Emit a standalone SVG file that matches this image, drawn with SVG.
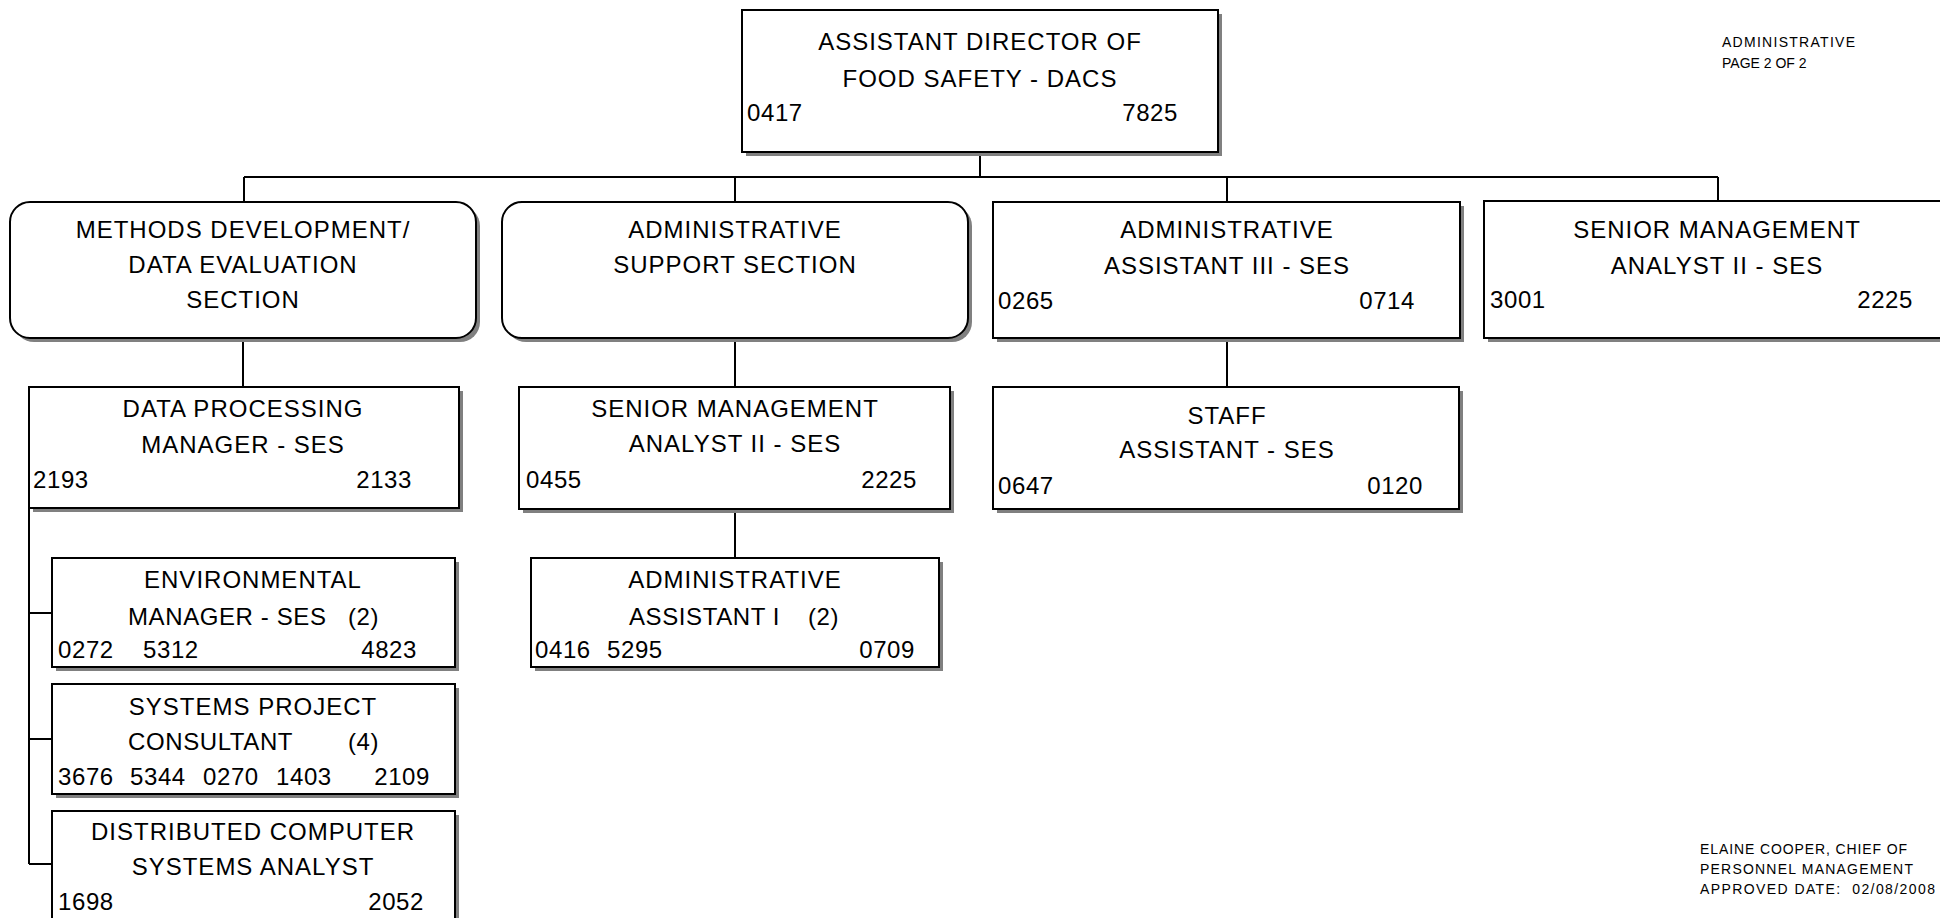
<svg xmlns="http://www.w3.org/2000/svg" width="1940" height="918" viewBox="0 0 1940 918">
  <style>
    text { font-family: "Liberation Sans", Arial, sans-serif; fill: #000; }
    .t { font-size: 24px; letter-spacing: 1px; text-anchor: middle; }
    .n { font-size: 24px; letter-spacing: 0.6px; }
    .r { text-anchor: end; }
    .note { font-size: 14px; }
    .box { fill: #fff; stroke: #000; stroke-width: 2; }
    .shadow { fill: #808080; }
    .wire { fill: none; stroke: #000; stroke-width: 2; }
  </style>

  <!-- connectors -->
  <g id="connectors" class="wire">
    <path d="M980,152 V177 M244,177 H1718 M244,177 V202 M735,177 V202 M1227,177 V202 M1718,177 V202"/>
    <path d="M243,338 V387"/>
    <path d="M29,508 V864 M29,613 H52 M29,739 H52 M29,864 H52"/>
    <path d="M735,338 V387 M735,509 V558"/>
    <path d="M1227,338 V387"/>
  </g>

  <!-- head of unit -->
  <g id="director">
    <rect class="shadow" x="746" y="14" width="476" height="142"/>
    <rect class="box" x="742" y="10" width="476" height="142"/>
    <text class="t" x="980" y="50">ASSISTANT DIRECTOR OF</text>
    <text class="t" x="980" y="87">FOOD SAFETY - DACS</text>
    <text class="n" x="747" y="121">0417</text>
    <text class="n r" x="1178" y="121">7825</text>
  </g>

  <!-- sections -->
  <g id="methods-section">
    <rect class="shadow" x="14" y="206" width="466" height="136" rx="20"/>
    <rect class="box" x="10" y="202" width="466" height="136" rx="20"/>
    <text class="t" x="243" y="238">METHODS DEVELOPMENT/</text>
    <text class="t" x="243" y="273">DATA EVALUATION</text>
    <text class="t" x="243" y="308">SECTION</text>
  </g>

  <g id="admin-support-section">
    <rect class="shadow" x="506" y="206" width="466" height="136" rx="20"/>
    <rect class="box" x="502" y="202" width="466" height="136" rx="20"/>
    <text class="t" x="735" y="238">ADMINISTRATIVE</text>
    <text class="t" x="735" y="273">SUPPORT SECTION</text>
  </g>

  <g id="admin-assistant-iii">
    <rect class="shadow" x="997" y="206" width="467" height="136"/>
    <rect class="box" x="993" y="202" width="467" height="136"/>
    <text class="t" x="1227" y="238">ADMINISTRATIVE</text>
    <text class="t" x="1227" y="274">ASSISTANT III - SES</text>
    <text class="n" x="998" y="309">0265</text>
    <text class="n r" x="1415" y="309">0714</text>
  </g>

  <g id="senior-analyst-top">
    <rect class="shadow" x="1488" y="205" width="467" height="137"/>
    <rect class="box" x="1484" y="201" width="467" height="137"/>
    <text class="t" x="1717" y="238">SENIOR MANAGEMENT</text>
    <text class="t" x="1717" y="274">ANALYST II - SES</text>
    <text class="n" x="1490" y="308">3001</text>
    <text class="n r" x="1913" y="308">2225</text>
  </g>

  <!-- methods development staff -->
  <g id="data-processing-manager">
    <rect class="shadow" x="33" y="391" width="430" height="121"/>
    <rect class="box" x="29" y="387" width="430" height="121"/>
    <text class="t" x="243" y="417">DATA PROCESSING</text>
    <text class="t" x="243" y="453">MANAGER - SES</text>
    <text class="n" x="33" y="488">2193</text>
    <text class="n r" x="412" y="488">2133</text>
  </g>

  <g id="environmental-manager">
    <rect class="shadow" x="56" y="562" width="403" height="109"/>
    <rect class="box" x="52" y="558" width="403" height="109"/>
    <text class="t" x="253" y="588">ENVIRONMENTAL</text>
    <text class="n" x="128" y="625">MANAGER - SES</text>
    <text class="n" x="348" y="625">(2)</text>
    <text class="n" x="58" y="658">0272</text>
    <text class="n" x="143" y="658">5312</text>
    <text class="n r" x="417" y="658">4823</text>
  </g>

  <g id="systems-project-consultant">
    <rect class="shadow" x="56" y="688" width="403" height="110"/>
    <rect class="box" x="52" y="684" width="403" height="110"/>
    <text class="t" x="253" y="715">SYSTEMS PROJECT</text>
    <text class="n" x="128" y="750">CONSULTANT</text>
    <text class="n" x="348" y="750">(4)</text>
    <text class="n" x="58" y="785">3676</text>
    <text class="n" x="130" y="785">5344</text>
    <text class="n" x="203" y="785">0270</text>
    <text class="n" x="276" y="785">1403</text>
    <text class="n r" x="430" y="785">2109</text>
  </g>

  <g id="distributed-systems-analyst">
    <rect class="shadow" x="56" y="815" width="403" height="120"/>
    <rect class="box" x="52" y="811" width="403" height="120"/>
    <text class="t" x="253" y="840">DISTRIBUTED COMPUTER</text>
    <text class="t" x="253" y="875">SYSTEMS ANALYST</text>
    <text class="n" x="58" y="910">1698</text>
    <text class="n r" x="424" y="910">2052</text>
  </g>

  <!-- administrative support staff -->
  <g id="senior-analyst-support">
    <rect class="shadow" x="523" y="391" width="431" height="122"/>
    <rect class="box" x="519" y="387" width="431" height="122"/>
    <text class="t" x="735" y="417">SENIOR MANAGEMENT</text>
    <text class="t" x="735" y="452">ANALYST II - SES</text>
    <text class="n" x="526" y="488">0455</text>
    <text class="n r" x="917" y="488">2225</text>
  </g>

  <g id="admin-assistant-i">
    <rect class="shadow" x="535" y="562" width="408" height="109"/>
    <rect class="box" x="531" y="558" width="408" height="109"/>
    <text class="t" x="735" y="588">ADMINISTRATIVE</text>
    <text class="n" x="629" y="625">ASSISTANT I</text>
    <text class="n" x="808" y="625">(2)</text>
    <text class="n" x="535" y="658">0416</text>
    <text class="n" x="607" y="658">5295</text>
    <text class="n r" x="915" y="658">0709</text>
  </g>

  <g id="staff-assistant">
    <rect class="shadow" x="997" y="391" width="466" height="122"/>
    <rect class="box" x="993" y="387" width="466" height="122"/>
    <text class="t" x="1227" y="424">STAFF</text>
    <text class="t" x="1227" y="458">ASSISTANT - SES</text>
    <text class="n" x="998" y="494">0647</text>
    <text class="n r" x="1423" y="494">0120</text>
  </g>

  <!-- page notes -->
  <g id="page-label">
    <text class="note" x="1722" y="47" textLength="133" lengthAdjust="spacing">ADMINISTRATIVE</text>
    <text class="note" x="1722" y="68">PAGE 2 OF 2</text>
  </g>

  <g id="approval">
    <text class="note" x="1700" y="854" textLength="207" lengthAdjust="spacing">ELAINE COOPER, CHIEF OF</text>
    <text class="note" x="1700" y="874" textLength="213" lengthAdjust="spacing">PERSONNEL MANAGEMENT</text>
    <text class="note" x="1700" y="894" textLength="235" lengthAdjust="spacing" xml:space="preserve">APPROVED DATE:  02/08/2008</text>
  </g>
</svg>
